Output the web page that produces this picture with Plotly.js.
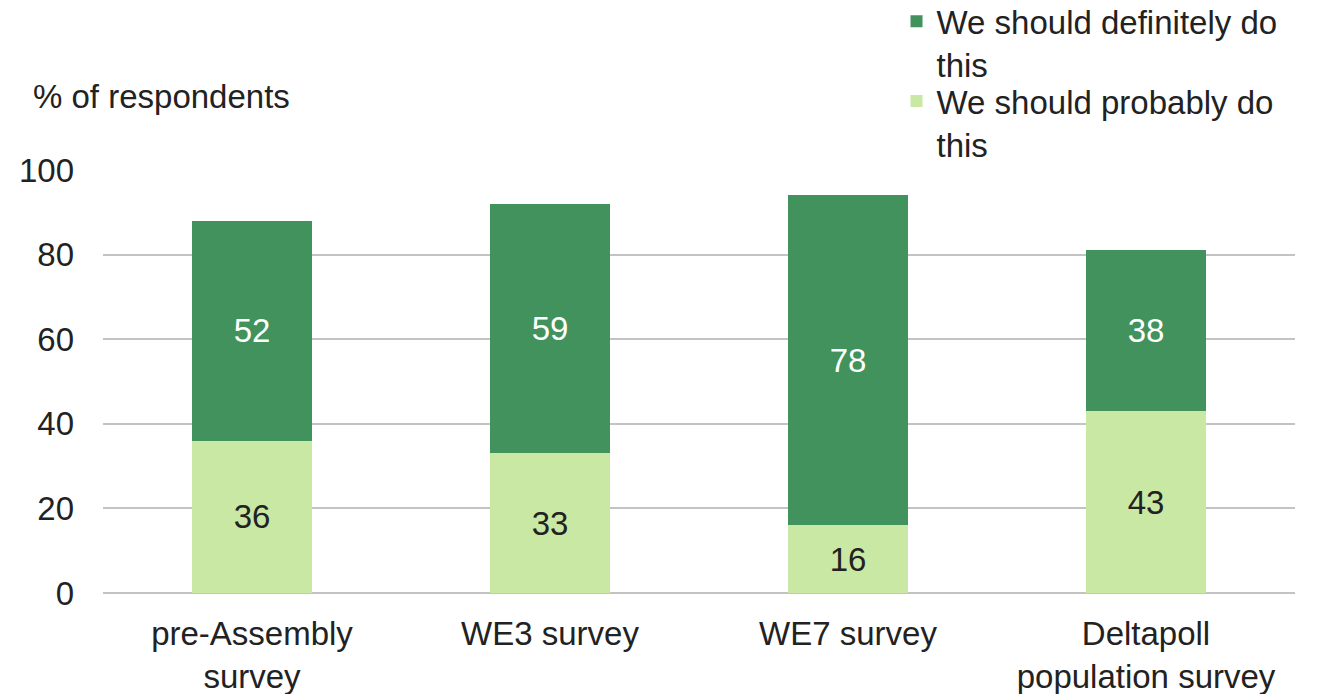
<!DOCTYPE html>
<html><head><meta charset="utf-8">
<script src="https://cdn.plot.ly/plotly-3.0.1.min.js"></script>
<style>body{margin:0;background:#fff}#c{width:1322px;height:694px}</style>
</head><body><div id="c"></div>
<script>
const categories = ["pre-Assembly<br>survey", "WE3 survey", "WE7 survey", "Deltapoll<br>population survey"];
const probably = [36, 33, 16, 43];
const definitely = [52, 59, 78, 38];
const seriesNames = ["We should definitely do<br>this", "We should probably do<br>this"];
const yTicks = [0, 20, 40, 60, 80, 100];

const font = "Liberation Sans, Arial, sans-serif";
const FS = 33;
const traces = [
  {type:'bar', x:categories, y:probably, name:seriesNames[1], marker:{color:'#c9e8a4'},
   text:probably.map(String), textposition:'inside', insidetextanchor:'middle',
   textfont:{color:'#222', size:FS, family:font}, width:0.4, legend:'legend2'},
  {type:'bar', x:categories, y:definitely, name:seriesNames[0], marker:{color:'#41925c'},
   text:definitely.map(String), textposition:'inside', insidetextanchor:'middle',
   textfont:{color:'#fff', size:FS, family:font}, width:0.4, legend:'legend'}
];
const legendBase = {x:0.6657, xanchor:'left', yanchor:'top', valign:'top',
                    font:{size:FS}, bgcolor:'rgba(0,0,0,0)'};
const layout = {
  width:1322, height:694, barmode:'stack',
  margin:{l:103, r:27, t:170, b:101, autoexpand:false},
  font:{family:font, size:FS, color:'#222'},
  paper_bgcolor:'#fff', plot_bgcolor:'#fff',
  xaxis:{tickfont:{size:FS}, showline:false, ticks:'', showgrid:false, ticklabelstandoff:18,
         tickangle:0, automargin:false},
  yaxis:{range:[0,100], tickvals:yTicks, ticktext:yTicks.map(String), tickfont:{size:FS},
         gridcolor:'#c3c3c3', gridwidth:2, zeroline:true, zerolinecolor:'#c3c3c3', zerolinewidth:2,
         showline:false, ticks:'', ticklen:0, ticklabelstandoff:28, automargin:false},
  legend:Object.assign({}, legendBase, {y:1.418}),
  legend2:Object.assign({}, legendBase, {y:1.229}),
  annotations:[{text:'% of respondents', xref:'paper', yref:'paper', x:-0.06, y:1.173,
                xanchor:'left', yanchor:'middle', showarrow:false, font:{size:FS}}],
  showlegend:true
};
Plotly.newPlot('c', traces, layout, {displayModeBar:false, staticPlot:true});
</script></body></html>
